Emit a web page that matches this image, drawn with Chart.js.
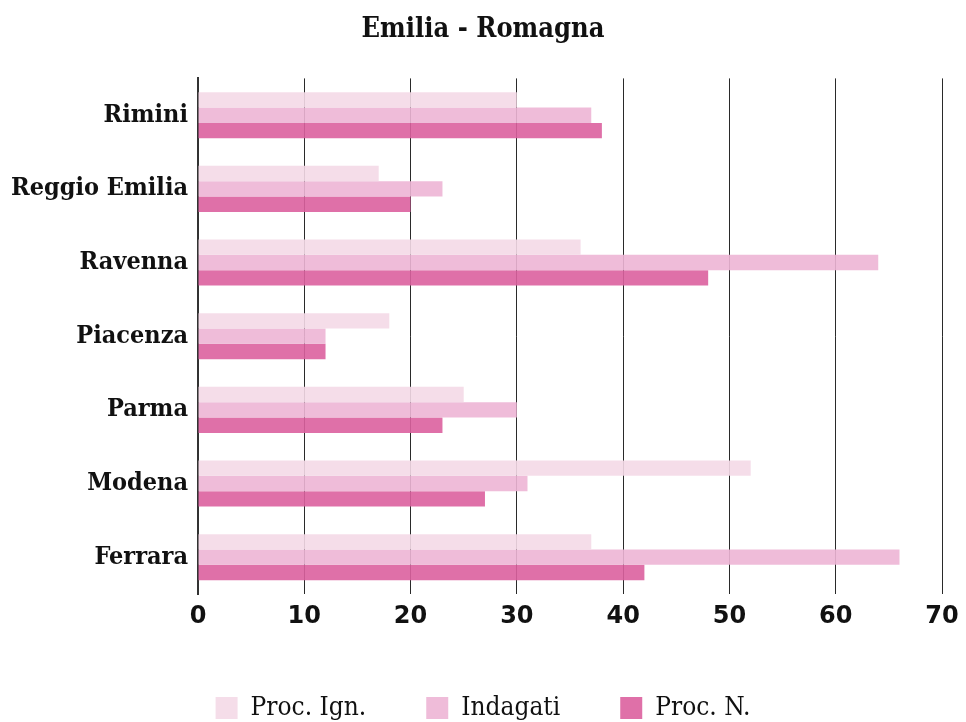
<!DOCTYPE html>
<html><head><meta charset="utf-8">
<script src="https://cdn.jsdelivr.net/npm/chart.js@4.4.1/dist/chart.umd.min.js"></script>
<style>html,body{margin:0;padding:0;overflow:hidden;background:#fff}#wrap{width:966px;height:731px;position:relative}</style>
</head><body><div id="wrap"><canvas id="c"></canvas></div>
<script>
const categories = ['Rimini', 'Reggio Emilia', 'Ravenna', 'Piacenza', 'Parma', 'Modena', 'Ferrara'];
const seriesNames = ['Proc. Ign.', 'Indagati', 'Proc. N.'];
const procIgn = [30, 17, 36, 18, 25, 52, 37];
const indagati = [37, 23, 64, 12, 30, 31, 66];
const procN = [38, 20, 48, 12, 23, 27, 42];
const xTicks = [0, 10, 20, 30, 40, 50, 60, 70];
const chartTitle = 'Emilia - Romagna';

const colors = ['rgba(244,217,231,0.9)', 'rgba(237,181,213,0.9)', 'rgba(219,96,158,0.9)'];
const seriesValues = [procIgn, indagati, procN];

const serifC = '"DejaVu Serif Condensed", "DejaVu Serif", serif';

new Chart(document.getElementById('c'), {
  type: 'bar',
  data: {
    labels: categories,
    datasets: seriesNames.map((n, i) => ({
      label: n,
      data: seriesValues[i],
      backgroundColor: colors[i],
      borderWidth: 0,
      categoryPercentage: 0.625,
      barPercentage: 1.0
    }))
  },
  options: {
    indexAxis: 'y',
    responsive: true,
    maintainAspectRatio: false,
    animation: false,
    layout: { padding: { left: 12, right: 12, top: 0, bottom: 0 } },
    plugins: {
      title: {
        display: true,
        text: chartTitle,
        color: '#111',
        font: { family: serifC, size: 27, weight: 'bold' },
        padding: { top: 14, bottom: 32 }
      },
      legend: {
        position: 'bottom',
        labels: {
          color: '#111',
          font: { family: serifC, size: 26, weight: 'normal' },
          boxWidth: 22,
          boxHeight: 22,
          padding: 60
        }
      },
      tooltip: { enabled: false }
    },
    scales: {
      x: {
        min: 0, max: 70,
        afterBuildTicks: (s) => { s.ticks = xTicks.map(v => ({ value: v })); },
        afterFit: (s) => { s.height = 41; s.paddingRight = 24; },
        grid: { color: '#2a2a2a', lineWidth: 1, drawTicks: false },
        border: { display: false },
        ticks: {
          color: '#111',
          padding: 8,
          font: { family: '"DejaVu Sans", sans-serif', size: 24, weight: 'bold' }
        }
      },
      y: {
        afterFit: (s) => { s.width = 186; },
        grid: { display: false, drawTicks: false },
        border: { display: true, color: '#333', width: 2 },
        ticks: {
          color: '#111',
          padding: 10,
          font: { family: serifC, size: 25, weight: 'bold' }
        }
      }
    }
  }
});
</script>
</body></html>
